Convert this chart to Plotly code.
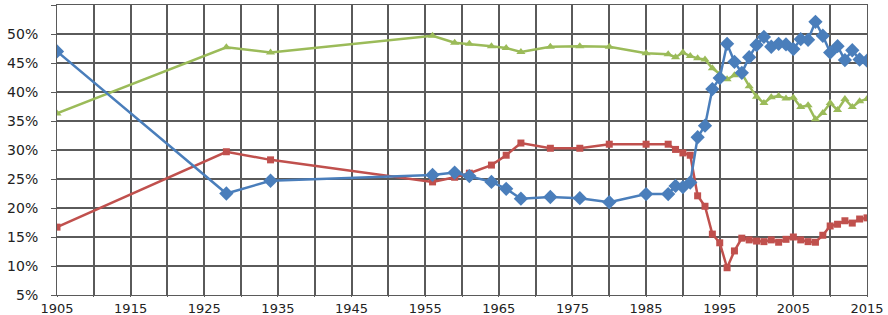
import plotly.graph_objects as go

years = [1905, 1928, 1934, 1956, 1959, 1961, 1964, 1966, 1968, 1972, 1976, 1980, 1985,
         1988, 1989, 1990, 1991,
         1992, 1993, 1994, 1995, 1996, 1997, 1998, 1999, 2000, 2001, 2002, 2003,
         2004, 2005, 2006, 2007, 2008, 2009, 2010, 2011, 2012, 2013, 2014, 2015]

blue = [47.0, 22.5, 24.7, 25.7, 26.1, 25.5, 24.5, 23.3, 21.6, 21.9, 21.7, 21.0, 22.4,
        22.4, 23.8, 23.6, 24.4,
        32.2, 34.2, 40.5, 42.4, 48.3, 45.2, 43.3, 46.0, 48.1, 49.5, 47.8, 48.3,
        48.2, 47.4, 49.1, 49.0, 52.1, 49.7, 46.8, 47.9, 45.5, 47.2, 45.6, 45.4]

red = [16.7, 29.7, 28.3, 24.5, 25.3, 26.0, 27.4, 29.1, 31.2, 30.3, 30.3, 31.0, 31.0,
       31.0, 30.1, 29.5, 29.1,
       22.1, 20.3, 15.5, 14.0, 9.7, 12.6, 14.8, 14.5, 14.3, 14.2, 14.5, 14.1,
       14.6, 15.0, 14.5, 14.2, 14.1, 15.3, 16.9, 17.2, 17.8, 17.4, 18.1, 18.3]

green = [36.3, 47.7, 46.8, 49.7, 48.5, 48.3, 47.9, 47.6, 46.9, 47.8, 47.9, 47.8, 46.7,
         46.5, 46.0, 46.8, 46.2,
         45.8, 45.6, 44.1, 43.1, 42.2, 42.9, 43.2, 41.0, 39.2, 38.1, 39.1, 39.3,
         38.9, 39.0, 37.4, 37.7, 35.3, 36.4, 38.1, 36.9, 38.8, 37.4, 38.4, 38.8]

x_grid_vals = list(range(1905, 2016, 5))
x_tick_text = [str(v) if (v - 1905) % 10 == 0 else "" for v in x_grid_vals]
y_tick_vals = [5, 10, 15, 20, 25, 30, 35, 40, 45, 50, 55]
y_tick_text = [f"{v}%" for v in y_tick_vals]

grid = "#5a5a5a"

fig = go.Figure()
fig.add_trace(go.Scatter(x=years, y=green, mode="lines+markers", name="green",
                         line=dict(color="#9BBB59", width=2.5),
                         marker=dict(symbol="triangle-up", size=8, color="#9BBB59")))
fig.add_trace(go.Scatter(x=years, y=red, mode="lines+markers", name="red",
                         line=dict(color="#C0504D", width=2.5),
                         marker=dict(symbol="square", size=7, color="#C0504D")))
fig.add_trace(go.Scatter(x=years, y=blue, mode="lines+markers", name="blue",
                         line=dict(color="#4A7EBB", width=2.5),
                         marker=dict(symbol="diamond", size=11, color="#4A7EBB")))

fig.update_layout(
    template="none",
    width=888, height=315,
    margin=dict(l=57, r=21, t=5, b=20),
    plot_bgcolor="rgba(0,0,0,0)", paper_bgcolor="white",
    showlegend=False,
    font=dict(family="DejaVu Sans", size=14, color="#222222"),
    xaxis=dict(range=[1905, 2015], tickmode="array", tickvals=x_grid_vals, ticktext=x_tick_text,
               showgrid=True, gridcolor=grid, gridwidth=1.5, zeroline=False,
               ticks="outside", ticklen=1, tickcolor=grid,
               tickfont=dict(size=13),
               showline=True, linecolor=grid, mirror=True, layer="below traces"),
    yaxis=dict(range=[5, 55], tickmode="array", tickvals=y_tick_vals, ticktext=y_tick_text,
               showgrid=True, gridcolor=grid, gridwidth=1.5, zeroline=False,
               ticks="outside", ticklen=5, tickcolor=grid,
               ticklabelstandoff=10,
               showline=True, linecolor=grid, mirror=True, layer="below traces"),
)
fig.write_html("out.html",
               config={"displayModeBar": False},
               post_script="document.body.style.margin='0';document.body.style.padding='0';")
